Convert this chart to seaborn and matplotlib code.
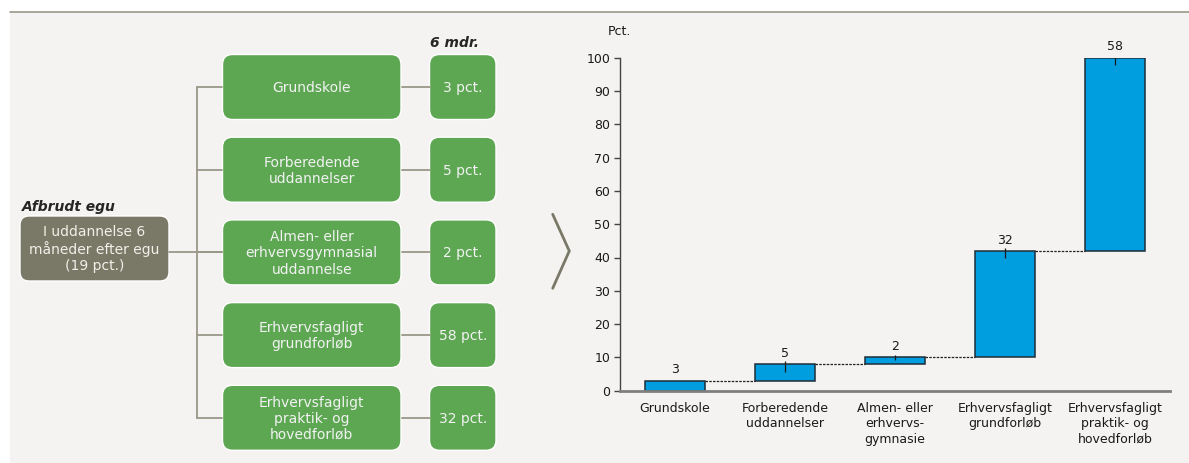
import numpy as np
import pandas as pd
import seaborn as sns
import matplotlib.pyplot as plt
from matplotlib.patches import FancyBboxPatch, Rectangle

# data
box_labels = ["Grundskole", "Forberedende\nuddannelser", "Almen- eller\nerhvervsgymnasial\nuddannelse",
              "Erhvervsfagligt\ngrundforløb", "Erhvervsfagligt\npraktik- og\nhovedforløb"]
box_values = ["3 pct.", "5 pct.", "2 pct.", "58 pct.", "32 pct."]
start_label = "I uddannelse 6\nmåneder efter egu\n(19 pct.)"

bar_categories = ["Grundskole", "Forberedende\nuddannelser", "Almen- eller\nerhvervs-\ngymnasie",
                  "Erhvervsfagligt\ngrundforløb", "Erhvervsfagligt\npraktik- og\nhovedforløb"]
bar_shares = [3, 5, 2, 32, 58]
tick_low = [0, 2.3, 0.9, 2.3, 2.3]
tick_high = [0, 0.8, 0.8, 0.8, 0.8]

GREEN = "#5da753"
BROWN = "#7a7866"
BLUE = "#009ddf"
BG = "#f4f3f1"
LINE = "#9a9888"

sns.set_style("white")
plt.rcParams["font.family"] = ["DejaVu Sans"]

fig = plt.figure(figsize=(11.89, 4.63), dpi=100)

# background / diagram layer in pixel coordinates
bg = fig.add_axes([0, 0, 1, 1])
bg.set_xlim(0, 1189)
bg.set_ylim(463, 0)
bg.axis("off")
bg.add_patch(Rectangle((10, 12), 1179, 451, color=BG, lw=0))
bg.plot([10, 1189], [12, 12], color=LINE, lw=1.2)

# start box
bg.add_patch(FancyBboxPatch((20, 216), 149, 65, boxstyle="round,pad=0,rounding_size=9",
                            fc=BROWN, ec="white", lw=1))
bg.text(94.5, 249, start_label, ha="center", va="center", color="#f0f0ea",
        fontsize=10, linespacing=1.2)
bg.text(22, 207, "Afbrudt egu", fontsize=10, fontweight="bold", fontstyle="italic",
        ha="left", va="center")
bg.text(430, 43, "6 mdr.", fontsize=10, fontweight="bold", fontstyle="italic",
        ha="left", va="center")

row_top = 54.5
pitch = 82.7
box_h = 65
centers = [row_top + i * pitch + box_h / 2 for i in range(len(box_labels))]
bg.plot([169, 222], [252, 252], color=LINE, lw=1.3)
bg.plot([196.7, 196.7], [centers[0], centers[-1]], color=LINE, lw=1.3)
for i, (lab, val) in enumerate(zip(box_labels, box_values)):
    y0 = row_top + i * pitch
    cy = centers[i]
    bg.plot([196.7, 222], [cy, cy], color=LINE, lw=1.3)
    bg.plot([402, 430], [cy, cy], color=LINE, lw=1.3)
    bg.add_patch(FancyBboxPatch((222.5, y0), 178.5, box_h, boxstyle="round,pad=0,rounding_size=10",
                                fc=GREEN, ec="white", lw=1))
    bg.add_patch(FancyBboxPatch((429.5, y0), 66.5, box_h, boxstyle="round,pad=0,rounding_size=10",
                                fc=GREEN, ec="white", lw=1))
    bg.text(311.7, cy + 1, lab, ha="center", va="center", color="#f2f2f2",
            fontsize=10, linespacing=1.2)
    bg.text(462.7, cy + 1, val, ha="center", va="center", color="#f2f2f2", fontsize=10)

# chevron
bg.plot([552.7, 569.3, 552.7], [214.3, 251, 288.3], color=BROWN, lw=2, solid_joinstyle="miter")

# waterfall chart
tops = np.cumsum(bar_shares)
bottoms = tops - np.array(bar_shares)
df = pd.DataFrame({"kategori": bar_categories, "andel": bar_shares})

ax = fig.add_axes([620 / 1189, (463 - 390.7) / 463, 550 / 1189, 333 / 463])
ax.set_facecolor("none")
sns.barplot(data=df, x="kategori", y="andel", bottom=bottoms, color=BLUE, saturation=1,
            edgecolor="#1e2d38", linewidth=1.1, width=0.55, ax=ax)
ax.errorbar(np.arange(len(tops)), tops, yerr=[tick_low, tick_high], fmt="none",
            ecolor="#1a1a1a", elinewidth=0.9, capsize=0)
for i in range(len(tops) - 1):
    ax.plot([i + 0.275, i + 1 - 0.275], [tops[i], tops[i]], color="#222222",
            lw=0.9, ls=(0, (2, 1)))
for i, v in enumerate(bar_shares):
    ax.text(i, tops[i] + 1.3, str(v), ha="center", va="bottom", fontsize=9, color="#1a1a1a")

ax.set_xlim(-0.5, 4.5)
ax.set_ylim(0, 100)
ax.set_yticks(range(0, 101, 10))
ax.set_xlabel("")
ax.set_ylabel("")
ax.tick_params(axis="x", length=0, pad=8, labelsize=9, labelcolor="#1a1a1a")
ax.tick_params(axis="y", length=4, width=1, color="#444444", pad=3, labelsize=9,
               labelcolor="#1a1a1a", left=True)
for lab in ax.get_xticklabels():
    lab.set_linespacing(1.25)
sns.despine(ax=ax)
ax.spines["left"].set_color("#444444")
ax.spines["left"].set_linewidth(1)
ax.spines["bottom"].set_color("#7f7f7f")
ax.spines["bottom"].set_linewidth(2)
ax.text(-0.022, 1.078, "Pct.", transform=ax.transAxes, fontsize=9, color="#1a1a1a",
        ha="left", va="center")

fig.savefig("out.png", dpi=100, facecolor="white")
